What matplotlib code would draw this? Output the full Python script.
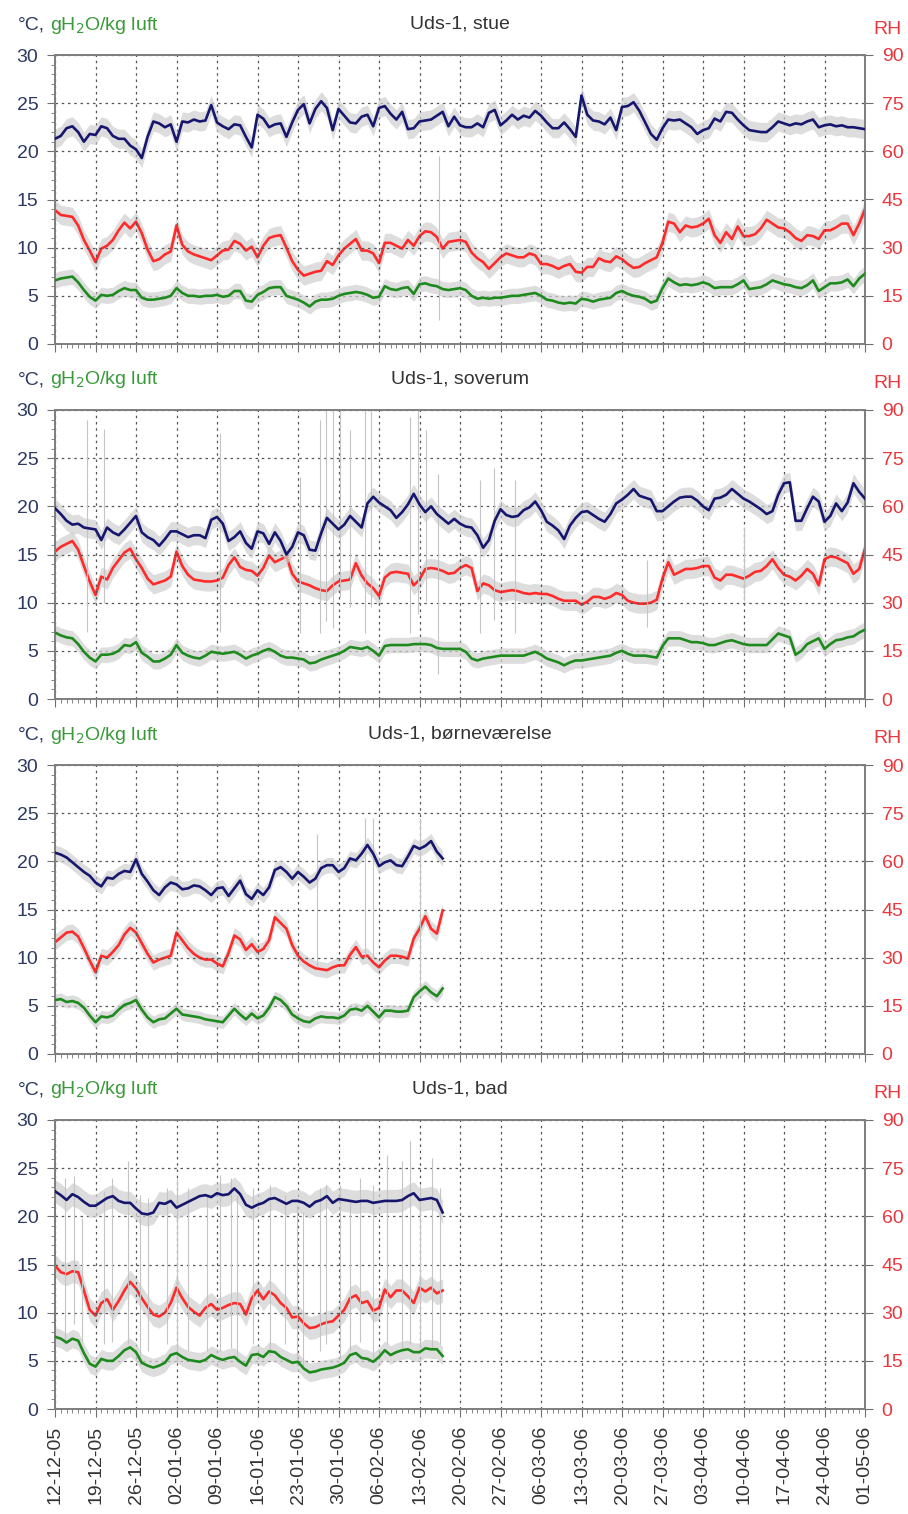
import numpy as np
import pandas as pd
import matplotlib
matplotlib.use("Agg")
import matplotlib.pyplot as plt
import matplotlib.dates as mdates
from matplotlib.ticker import MultipleLocator

plt.rcParams['font.family'] = ['Liberation Sans', 'DejaVu Sans']

start = pd.Timestamp("2005-12-12")
end = pd.Timestamp("2006-05-01")

titles = ["Uds-1, stue", "Uds-1, soverum", "Uds-1, børneværelse", "Uds-1, bad"]

# daily values, temperature (°C)
temp_stue = [21.3, 21.6, 22.4, 22.6, 22.0, 21.0, 21.8, 21.7, 22.6, 22.4,
             21.6, 21.3, 21.3, 20.6, 20.2, 19.3, 21.5, 23.1, 22.9, 22.5,
             22.8, 21.0, 23.1, 23.0, 23.3, 23.1, 23.2, 24.8, 23.0, 22.6,
             22.3, 22.8, 22.7, 21.5, 20.4, 23.8, 23.4, 22.5, 22.8, 22.9,
             21.5, 23.0, 24.3, 24.9, 22.9, 24.4, 25.2, 24.5, 22.2, 24.4,
             23.7, 23.0, 22.9, 23.6, 23.8, 22.6, 24.5, 24.7, 23.9, 23.3,
             24.1, 22.3, 22.4, 23.1, 23.2, 23.3, 23.7, 24.1, 22.6, 23.6,
             22.7, 22.5, 22.5, 22.9, 22.5, 24.0, 24.3, 22.7, 23.2, 23.8,
             23.3, 23.7, 23.5, 24.2, 23.7, 23.0, 22.4, 22.4, 23.0, 22.3,
             21.5, 25.8, 23.8, 23.2, 23.1, 22.8, 23.5, 22.2, 24.6, 24.7,
             25.1, 24.2, 23.0, 21.8, 21.2, 22.4, 23.3, 23.2, 23.3, 22.9,
             22.5, 21.8, 22.2, 22.4, 23.4, 23.1, 24.1, 24.0, 23.3, 22.7,
             22.2, 22.1, 22.0, 22.0, 22.5, 23.1, 22.9, 22.7, 22.9, 22.8,
             23.1, 23.3, 22.5, 22.7, 22.8, 22.6, 22.7, 22.5, 22.5, 22.4,
             22.3]
temp_soverum = [19.8, 19.2, 18.5, 18.1, 18.2, 17.8, 17.7, 17.6, 16.5, 17.8,
                17.3, 17.0, 17.6, 18.3, 19.0, 17.3, 16.8, 16.5, 15.9, 16.6,
                17.4, 17.4, 17.1, 16.8, 17.0, 17.0, 16.7, 18.6, 18.9, 18.2,
                16.4, 16.8, 17.4, 16.2, 15.6, 17.4, 17.2, 16.1, 17.3, 16.4,
                15.0, 15.8, 17.3, 17.0, 15.5, 15.4, 17.2, 18.8, 18.2, 17.6,
                18.1, 19.0, 18.4, 17.8, 20.3, 21.0, 20.4, 20.0, 19.6, 18.8,
                19.4, 20.2, 21.3, 20.2, 19.4, 20.0, 19.2, 18.7, 18.2, 18.7,
                18.2, 17.9, 17.8, 17.0, 15.7, 16.5, 18.5, 19.7, 19.1, 18.9,
                19.0, 19.6, 19.9, 20.5, 19.6, 18.4, 18.0, 17.5, 16.6, 18.0,
                18.8, 19.4, 19.5, 19.1, 18.7, 18.4, 19.2, 20.3, 20.7, 21.2,
                21.8, 21.1, 20.9, 20.7, 19.5, 19.5, 20.0, 20.5, 20.9, 21.0,
                21.0, 20.6, 20.0, 19.6, 20.8, 20.9, 21.2, 21.8, 21.3, 20.8,
                20.5, 20.1, 19.7, 19.2, 19.5, 21.2, 22.4, 22.5, 18.5, 18.5,
                19.8, 21.0, 20.5, 18.4, 19.0, 20.3, 19.5, 20.4, 22.4, 21.5,
                20.8]
temp_boerne = [20.9, 20.7, 20.4, 19.9, 19.4, 18.9, 18.5, 17.8, 17.4, 18.3,
               18.2, 18.7, 19.0, 18.9, 20.2, 18.7, 17.9, 17.0, 16.5, 17.3,
               17.8, 17.6, 17.1, 17.2, 17.5, 17.4, 17.0, 16.5, 17.2, 17.3,
               16.4, 17.2, 18.0, 16.6, 16.1, 17.0, 16.5, 17.3, 19.1, 19.4,
               18.9, 18.2, 18.9, 18.4, 17.8, 18.2, 19.3, 19.6, 19.6, 18.9,
               19.3, 20.3, 20.1, 20.8, 21.7, 20.8, 19.5, 19.9, 20.1, 19.6,
               19.5, 20.5, 21.6, 21.3, 21.6, 22.1, 21.0, 20.3]
temp_bad = [22.6, 22.2, 21.7, 22.3, 22.0, 21.5, 21.1, 21.1, 21.5, 21.9,
            22.1, 21.6, 21.4, 21.4, 20.8, 20.3, 20.2, 20.4, 21.4, 21.3,
            21.6, 20.9, 21.2, 21.5, 21.8, 22.1, 22.2, 22.0, 22.4, 22.2,
            22.3, 22.9, 22.3, 21.2, 20.9, 21.2, 21.4, 21.8, 21.9, 21.6,
            21.3, 21.6, 21.6, 21.4, 21.0, 21.5, 21.7, 22.1, 21.4, 21.8,
            21.7, 21.6, 21.5, 21.6, 21.6, 21.4, 21.5, 21.6, 21.6, 21.6,
            21.7, 22.1, 22.4, 21.7, 21.8, 21.9, 21.7, 20.4]

# daily values, relative humidity (%)
rh_stue = [41.7, 40.2, 39.9, 39.6, 36.9, 32.4, 29.1, 25.5, 29.7, 30.6,
           32.4, 35.4, 37.8, 36.0, 38.1, 34.5, 29.4, 25.8, 26.4, 27.9,
           28.8, 36.9, 30.9, 28.8, 27.9, 27.3, 26.7, 26.1, 27.6, 29.1,
           29.4, 32.1, 31.2, 29.1, 30.3, 27.0, 30.6, 33.0, 33.6, 33.9,
           30.0, 25.8, 23.1, 21.3, 21.9, 22.5, 22.8, 25.8, 24.6, 27.6,
           29.7, 31.2, 32.7, 29.1, 29.1, 28.2, 25.2, 31.5, 31.5, 30.6,
           29.7, 32.4, 30.6, 33.6, 35.1, 34.8, 33.3, 29.7, 31.8, 32.1,
           32.4, 31.8, 28.5, 26.7, 25.5, 23.4, 25.2, 27.0, 28.2, 27.6,
           27.0, 27.0, 28.2, 27.6, 24.9, 24.9, 24.3, 23.4, 24.3, 24.9,
           22.5, 22.2, 24.0, 24.0, 26.7, 25.8, 25.5, 27.3, 26.4, 24.9,
           23.7, 24.0, 25.2, 26.1, 27.0, 31.5, 38.1, 37.5, 34.8, 36.9,
           36.3, 36.6, 37.5, 39.0, 33.9, 31.5, 34.8, 32.7, 36.6, 33.6,
           33.6, 34.2, 36.0, 38.7, 37.5, 36.3, 36.0, 34.8, 33.0, 32.1,
           33.9, 33.6, 32.7, 35.4, 35.4, 36.3, 37.5, 37.5, 33.9, 37.5,
           42.0]
rh_soverum = [45.9, 47.4, 48.3, 49.2, 46.5, 41.4, 36.6, 32.4, 38.1, 37.2,
              40.8, 43.2, 45.6, 46.8, 43.5, 40.8, 37.5, 35.7, 36.3, 36.9,
              38.1, 45.9, 41.4, 38.7, 37.2, 36.9, 36.6, 36.6, 36.9, 37.8,
              41.7, 44.1, 41.1, 40.2, 39.9, 38.4, 40.8, 44.7, 42.6, 43.5,
              44.4, 39.0, 36.6, 36.0, 35.4, 34.5, 33.9, 33.6, 35.4, 36.6,
              36.9, 37.2, 42.3, 38.4, 36.0, 34.5, 32.1, 37.8, 39.3, 39.6,
              39.3, 39.0, 35.4, 37.2, 40.5, 40.8, 40.5, 39.9, 39.0, 39.3,
              40.8, 41.7, 40.8, 33.6, 36.0, 35.4, 33.9, 33.3, 33.6, 33.9,
              33.6, 33.0, 32.7, 33.0, 32.7, 32.7, 32.1, 31.2, 30.6, 30.6,
              30.6, 29.4, 30.3, 31.8, 31.8, 31.2, 31.8, 33.0, 32.4, 30.6,
              30.0, 29.7, 29.7, 30.0, 30.9, 37.5, 42.6, 38.7, 39.6, 40.5,
              40.5, 40.8, 41.4, 41.4, 37.8, 36.9, 38.7, 38.7, 38.1, 37.5,
              38.4, 39.6, 39.9, 41.4, 43.5, 40.8, 38.7, 38.1, 36.9, 38.4,
              40.5, 39.0, 35.4, 43.5, 44.4, 44.1, 43.2, 42.3, 39.0, 40.5,
              46.8]
rh_boerne = [34.8, 36.3, 37.8, 38.1, 36.6, 33.0, 29.1, 25.5, 30.6, 30.0,
             31.8, 33.9, 37.2, 39.3, 37.8, 34.5, 31.2, 28.5, 29.4, 30.0,
             30.6, 37.8, 35.4, 33.0, 31.2, 30.0, 29.4, 29.4, 28.2, 27.3,
             31.5, 36.9, 35.7, 32.4, 34.2, 31.8, 32.7, 35.4, 42.6, 40.8,
             39.0, 33.9, 30.6, 28.8, 27.6, 26.7, 26.4, 26.1, 27.0, 27.6,
             27.6, 30.9, 33.3, 30.3, 30.6, 28.5, 27.0, 29.1, 30.6, 30.6,
             30.3, 29.7, 36.0, 39.0, 42.9, 39.0, 37.5, 44.7]
rh_bad = [44.7, 42.6, 42.0, 42.9, 42.6, 36.9, 30.9, 29.1, 33.0, 34.2,
          30.9, 33.6, 36.9, 39.6, 37.5, 34.5, 31.8, 29.4, 28.8, 30.0,
          33.0, 37.8, 34.5, 31.8, 30.3, 29.1, 31.5, 32.7, 30.9, 31.5,
          32.4, 33.0, 32.7, 29.4, 34.5, 36.9, 34.2, 36.6, 35.4, 33.0,
          31.5, 28.5, 28.8, 26.7, 25.2, 25.5, 26.4, 27.0, 27.3, 29.1,
          30.9, 34.5, 35.4, 33.0, 33.6, 30.6, 31.5, 37.2, 34.8, 36.9,
          36.9, 35.1, 33.0, 37.8, 36.6, 37.8, 36.0, 36.9]

# daily values, water content (g H2O / kg air)
x_stue = [6.6, 6.8, 6.9, 7.0, 6.4, 5.6, 4.9, 4.5, 5.1, 5.0,
          5.1, 5.5, 5.8, 5.6, 5.6, 4.8, 4.6, 4.6, 4.7, 4.8,
          5.0, 5.8, 5.3, 5.0, 5.0, 4.9, 5.0, 5.0, 5.1, 4.9,
          5.0, 5.5, 5.5, 4.5, 4.4, 5.1, 5.4, 5.8, 5.9, 5.9,
          5.0, 4.8, 4.6, 4.3, 3.9, 4.4, 4.6, 4.6, 4.7, 5.0,
          5.2, 5.3, 5.4, 5.3, 5.1, 4.8, 4.9, 6.0, 5.7, 5.6,
          5.8, 5.9, 5.2, 6.2, 6.3, 6.1, 6.0, 5.7, 5.6, 5.7,
          5.8, 5.6, 5.0, 4.7, 4.8, 4.7, 4.8, 4.8, 4.9, 5.0,
          5.0, 5.1, 5.2, 5.3, 5.0, 4.6, 4.5, 4.3, 4.2, 4.3,
          4.2, 4.7, 4.6, 4.4, 4.6, 4.7, 4.8, 5.3, 5.5, 5.2,
          5.0, 4.9, 4.7, 4.3, 4.5, 5.8, 6.8, 6.4, 6.1, 6.2,
          6.1, 6.2, 6.4, 6.2, 5.8, 5.9, 5.9, 5.9, 6.2, 6.6,
          5.7, 5.8, 5.9, 6.2, 6.6, 6.4, 6.2, 6.1, 5.9, 5.8,
          6.1, 6.6, 5.5, 5.9, 6.3, 6.3, 6.4, 6.7, 6.0, 6.8,
          7.3]
x_soverum = [6.9, 6.6, 6.4, 6.3, 5.7, 4.9, 4.3, 3.9, 4.6, 4.6,
             4.7, 5.0, 5.6, 5.5, 5.9, 4.8, 4.4, 3.9, 3.9, 4.2,
             4.6, 5.6, 4.8, 4.5, 4.3, 4.2, 4.5, 4.9, 4.8, 4.7,
             4.8, 4.9, 4.6, 4.2, 4.5, 4.7, 5.0, 5.2, 4.9, 4.5,
             4.3, 4.3, 4.2, 4.1, 3.7, 3.8, 4.1, 4.3, 4.5, 4.7,
             5.0, 5.4, 5.3, 5.2, 5.4, 5.0, 4.5, 5.5, 5.6, 5.6,
             5.6, 5.6, 5.7, 5.7, 5.7, 5.6, 5.3, 5.2, 5.2, 5.2,
             5.2, 4.9, 4.2, 4.0, 4.2, 4.3, 4.4, 4.5, 4.5, 4.5,
             4.5, 4.5, 4.7, 4.9, 4.6, 4.2, 4.0, 3.8, 3.5, 3.8,
             4.0, 4.0, 4.1, 4.2, 4.3, 4.4, 4.5, 4.8, 5.0, 4.7,
             4.5, 4.5, 4.5, 4.4, 4.3, 5.5, 6.3, 6.3, 6.3, 6.1,
             5.9, 5.9, 5.8, 5.6, 5.6, 5.8, 6.0, 6.1, 5.9, 5.7,
             5.6, 5.6, 5.6, 5.6, 6.2, 6.8, 6.6, 6.4, 4.6, 5.0,
             5.7, 6.0, 6.3, 5.2, 5.7, 6.1, 6.2, 6.4, 6.5, 6.9,
             7.2]
x_boerne = [5.6, 5.7, 5.4, 5.5, 5.3, 4.8, 4.0, 3.3, 3.9, 3.8,
            4.0, 4.6, 5.1, 5.3, 5.6, 4.6, 3.8, 3.3, 3.6, 3.7,
            4.2, 4.7, 4.1, 4.0, 3.9, 3.8, 3.6, 3.5, 3.4, 3.3,
            4.0, 4.7, 4.1, 3.6, 4.2, 3.7, 4.0, 4.8, 5.9, 5.6,
            5.0, 4.1, 3.7, 3.4, 3.3, 3.7, 3.9, 3.8, 3.8, 3.7,
            4.0, 4.6, 4.7, 4.5, 5.0, 4.4, 3.8, 4.5, 4.5, 4.4,
            4.4, 4.5, 5.9, 6.5, 7.0, 6.4, 6.0, 6.8]
x_bad = [7.5, 7.3, 6.9, 7.3, 7.1, 5.8, 4.7, 4.4, 5.2, 5.0,
         5.0, 5.5, 6.1, 6.4, 5.9, 4.8, 4.5, 4.3, 4.5, 4.8,
         5.6, 5.8, 5.4, 5.1, 5.0, 4.9, 5.1, 5.6, 5.3, 5.1,
         5.3, 5.4, 4.9, 4.5, 5.6, 5.7, 5.4, 6.0, 5.9, 5.4,
         5.1, 4.8, 4.9, 4.2, 3.8, 3.9, 4.1, 4.2, 4.3, 4.5,
         4.8, 5.6, 5.8, 5.3, 5.2, 4.9, 5.4, 6.1, 5.6, 5.9,
         6.1, 6.2, 5.9, 5.9, 6.3, 6.2, 6.2, 5.5]

# short raw-data spikes (day offset from start, low, high on the left scale)
spike_day_stue = [66.3]
spike_lo_stue = [2.5]
spike_hi_stue = [19.5]
spike_day_soverum = [5.5, 8.4, 28.5, 42.3, 45.8, 46.9, 48.1, 49.3, 51.0, 53.6,
                     54.7, 61.3, 62.7, 64.2, 66.2, 73.5, 75.8, 79.5, 102.3, 119.0]
spike_lo_soverum = [7.0, 10.0, 7.0, 6.8, 6.8, 8.1, 7.4, 10.6, 9.5, 6.8,
                    9.5, 6.8, 8.8, 10.2, 2.6, 6.8, 8.2, 6.8, 7.5, 10.2]
spike_hi_soverum = [29.0, 28.0, 27.6, 23.0, 29.0, 30.0, 30.0, 30.0, 27.9, 30.0,
                    30.0, 29.3, 30.0, 27.9, 23.4, 22.7, 24.0, 22.7, 14.4, 17.9]
spike_day_boerne = [45.2, 53.6, 55.0, 63.0]
spike_lo_boerne = [9.0, 10.0, 10.0, 6.5]
spike_hi_boerne = [22.8, 24.5, 24.5, 24.5]
spike_day_bad = [1.7, 3.2, 4.6, 8.4, 9.8, 12.7, 14.7, 16.1, 19.3, 21.0,
                 23.0, 26.2, 28.5, 30.5, 31.4, 34.3, 37.2, 39.7, 41.8, 42.9,
                 45.8, 46.9, 49.3, 51.0, 52.7, 55.0, 57.3, 59.9, 61.3, 63.1,
                 65.1, 66.5]
spike_lo_bad = [6.7, 8.8, 7.0, 6.7, 7.0, 6.7, 4.6, 6.0, 6.7, 4.9,
                6.0, 6.0, 6.0, 6.3, 5.3, 6.7, 5.6, 6.7, 4.6, 4.3,
                6.0, 6.7, 5.3, 6.0, 7.0, 5.3, 6.7, 6.3, 6.7, 6.3,
                6.3, 6.7]
spike_hi_bad = [24.0, 24.2, 19.8, 22.6, 24.0, 25.7, 22.2, 21.9, 22.9, 24.0,
                22.9, 22.2, 24.3, 24.0, 22.2, 22.9, 23.3, 22.2, 21.2, 20.5,
                22.9, 23.3, 23.3, 21.6, 24.0, 23.3, 26.4, 25.7, 27.8, 23.3,
                26.1, 22.9]

panels = [
    (titles[0], temp_stue, rh_stue, x_stue, spike_day_stue, spike_lo_stue, spike_hi_stue, 1.0),
    (titles[1], temp_soverum, rh_soverum, x_soverum, spike_day_soverum, spike_lo_soverum, spike_hi_soverum, 1.0),
    (titles[2], temp_boerne, rh_boerne, x_boerne, spike_day_boerne, spike_lo_boerne, spike_hi_boerne, 0.8),
    (titles[3], temp_bad, rh_bad, x_bad, spike_day_bad, spike_lo_bad, spike_hi_bad, 1.2),
]

W, H = 908, 1514
fig = plt.figure(figsize=(W / 100, H / 100), dpi=100)

c_temp = '#16166e'
c_rh = '#ff2a2a'
c_x = '#1e8a1e'
c_haze = '#cfcfcf'
c_axis_lbl = '#2c3a63'
c_rh_lbl = '#e8383d'
c_grid = '#555555'

tops = [55, 410, 765, 1120]
ax_h = 289

for i, (title, temp, rh, xw, sd, slo, shi, haze) in enumerate(panels):
    top = tops[i]
    ax = fig.add_axes([55 / W, 1 - (top + ax_h) / H, 810 / W, ax_h / H])
    axr = ax.twinx()

    dates = pd.date_range(start, periods=len(temp), freq='D')
    t = np.array(temp)
    r = np.array(rh)
    g = np.array(xw)

    # gray haze of raw data
    ax.fill_between(dates, t - haze, t + haze, color=c_haze, alpha=0.7, lw=0, zorder=1)
    ax.fill_between(dates, g - haze * 0.8, g + haze * 0.8, color=c_haze, alpha=0.7, lw=0, zorder=1)
    axr.fill_between(dates, r - haze * 3, r + haze * 3, color=c_haze, alpha=0.7, lw=0, zorder=1)
    spike_dates = start + pd.to_timedelta(sd, unit='D')
    ax.vlines(spike_dates, slo, shi, color='#c4c4c4', lw=0.8, zorder=1)

    ax.plot(dates, t, color=c_temp, lw=1.9, zorder=3)
    ax.plot(dates, g, color=c_x, lw=1.9, zorder=3)
    axr.plot(dates, r, color=c_rh, lw=1.9, zorder=3)

    ax.set_xlim(start, end)
    ax.set_ylim(0, 30)
    axr.set_ylim(0, 90)
    ax.set_yticks(range(0, 31, 5))
    ax.yaxis.set_minor_locator(MultipleLocator(1))
    axr.set_yticks(range(0, 91, 15))

    ax.xaxis.set_major_locator(mdates.WeekdayLocator(byweekday=mdates.MO))
    ax.xaxis.set_minor_locator(mdates.DayLocator())
    ax.xaxis.set_major_formatter(mdates.DateFormatter('%d-%m-%y'))

    ax.grid(True, which='major', linestyle=(0, (2, 3)), color=c_grid, lw=0.9)
    ax.set_axisbelow(True)

    for a in (ax, axr):
        for s in a.spines.values():
            s.set_color('#808080')
            s.set_linewidth(1.3)

    ax.tick_params(axis='y', which='major', length=6, direction='out', color='#707070',
                   labelsize=14, labelcolor=c_axis_lbl, pad=6)
    ax.tick_params(axis='y', which='minor', length=3, direction='out', color='#707070')
    axr.tick_params(axis='y', which='major', length=6, direction='out', color='#707070',
                    labelsize=14, labelcolor=c_rh_lbl, pad=6)
    ax.tick_params(axis='x', which='major', length=6, direction='out', color='#707070',
                   labelsize=14, labelcolor='#333333', rotation=90, pad=6)
    ax.tick_params(axis='x', which='minor', length=3, direction='out', color='#707070')
    if i < 3:
        ax.tick_params(axis='x', labelbottom=False)

    ax.set_zorder(axr.get_zorder() + 1)
    ax.patch.set_visible(False)

    fig.text(460 / W, 1 - (top - 31) / H, title, ha='center', va='center',
             fontsize=14, color='#333333')
    fig.text(18 / W, 1 - (top - 30) / H, '°C,', ha='left', va='center',
             fontsize=14, color=c_axis_lbl)
    fig.text(50 / W, 1 - (top - 30) / H, 'gH$_2$O/kg luft', ha='left', va='center',
             fontsize=14, color='#3a9a3a')
    fig.text(902 / W, 1 - (top - 26) / H, 'RH', ha='right', va='center',
             fontsize=14, color=c_rh_lbl)

fig.savefig('out.png', dpi=100)
